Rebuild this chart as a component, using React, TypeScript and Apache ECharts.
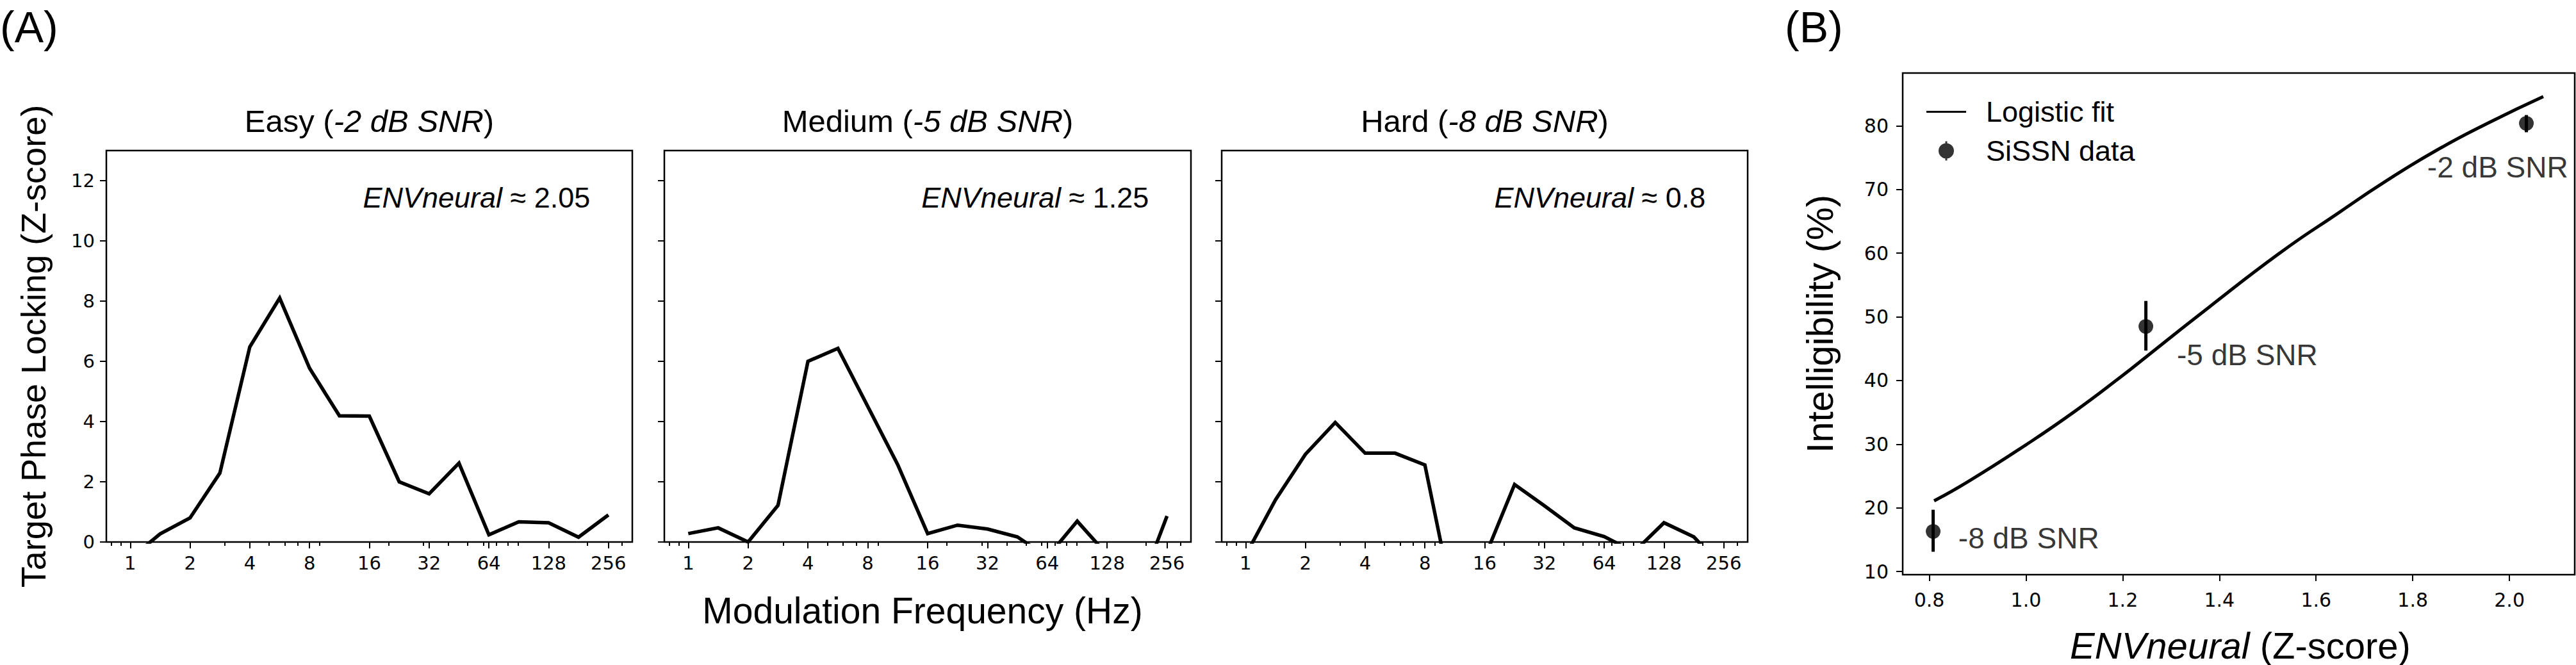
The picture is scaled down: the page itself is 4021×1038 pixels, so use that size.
import React, { useEffect, useRef } from "react";
import * as echarts from "echarts";

// ---------------- data ----------------
const modFreqsHz = [1, 1.414, 2, 2.828, 4, 5.657, 8, 11.31, 16, 22.63, 32, 45.25, 64, 90.51, 128, 181.0, 256];
const easyZ = [-0.55, 0.27, 0.8, 2.29, 6.48, 8.1, 5.77, 4.19, 4.18, 2.0, 1.6, 2.62, 0.24, 0.67, 0.64, 0.16, 0.9];
const mediumZ = [0.28, 0.47, 0.0, 1.22, 6.0, 6.43, 4.5, 2.57, 0.28, 0.56, 0.43, 0.17, -0.5, 0.69, -0.42, -1.75, 0.86];
const hardZ = [-0.44, 1.4, 2.91, 3.97, 2.95, 2.95, 2.56, -2.27, -0.51, 1.91, 1.2, 0.47, 0.18, -0.33, 0.64, 0.17, -0.89];

const freqTickHz = [1, 2, 4, 8, 16, 32, 64, 128, 256];
const freqMinorTickHz = [0.8, 0.9, 3, 5, 6, 7, 9, 20, 30, 40, 50, 60, 70, 80, 90, 200, 300];
const zTicks = [0, 2, 4, 6, 8, 10, 12];

const panelNames = ["Easy", "Medium", "Hard"];
const panelSnr = ["-2 dB SNR", "-5 dB SNR", "-8 dB SNR"];
const envNeuralText = ["2.05", "1.25", "0.8"];

const sissnEnvNeural = [0.808, 1.248, 2.035];
const sissnIntelligibility = [16.3, 48.5, 80.4];
const sissnLow = [13.1, 44.7, 79.0];
const sissnHigh = [19.7, 52.5, 81.7];

const snrLabels = ["-8 dB SNR", "-5 dB SNR", "-2 dB SNR"];
const snrLabelX = [0.86, 1.312, 1.83];
const snrLabelY = [15.2, 44.0, 73.5];

const fitEnvNeural = [0.81, 0.88, 1.0, 1.1, 1.2, 1.25, 1.38, 1.53, 1.64, 1.74, 1.85, 1.96, 2.07];
const fitIntelligibility = [21.1, 24.1, 29.9, 35.1, 40.8, 43.8, 51.6, 60.3, 66.0, 71.1, 76.2, 80.6, 84.6];

const intelTicks = [10, 20, 30, 40, 50, 60, 70, 80];
const envTicks = [0.8, 1.0, 1.2, 1.4, 1.6, 1.8, 2.0];

// ---------------- layout ----------------
const W = 4021;
const H = 1038;
const FONT_SANS = "'Liberation Sans', Arial, Helvetica, sans-serif";
const FONT_TICK = "'DejaVu Sans', sans-serif";

const panelA = [
  { left: 166, top: 235, width: 821, height: 611 },
  { left: 1037, top: 235, width: 822, height: 611 },
  { left: 1907, top: 235, width: 821, height: 611 },
];
const panelB = { left: 2970, top: 114, width: 1049, height: 783 };

const X_MIN = -0.4;
const X_MAX = 8.4;
const Y_MIN = 0;
const Y_MAX = 13;

const tickLine = { color: "#000", width: 2 };
const hiddenLine = { show: false, onZero: false };

function buildOption(): any {
  const log2 = (v: number) => Math.log2(v);
  const series: any[] = [];
  const xAxis: any[] = [];
  const yAxis: any[] = [];
  const graphic: any[] = [];
  const seriesValues = [easyZ, mediumZ, hardZ];

  panelA.forEach((g, i) => {
    xAxis.push({
      type: "value",
      gridIndex: i,
      position: "bottom",
      min: X_MIN,
      max: X_MAX,
      axisLine: hiddenLine,
      splitLine: { show: false },
      axisTick: { show: true, customValues: freqTickHz.map(log2), length: 10, lineStyle: tickLine },
      axisLabel: {
        show: true,
        customValues: freqTickHz.map(log2),
        formatter: (v: number) => String(Math.round(Math.pow(2, v))),
        margin: 18,
        fontSize: 29,
        fontFamily: FONT_TICK,
        color: "#000",
      },
    });
    xAxis.push({
      type: "value",
      gridIndex: i,
      position: "bottom",
      min: X_MIN,
      max: X_MAX,
      axisLine: hiddenLine,
      splitLine: { show: false },
      axisTick: { show: true, customValues: freqMinorTickHz.map(log2), length: 6, lineStyle: tickLine },
      axisLabel: { show: false },
    });
    yAxis.push({
      type: "value",
      gridIndex: i,
      position: "left",
      min: Y_MIN,
      max: Y_MAX,
      axisLine: hiddenLine,
      splitLine: { show: false },
      axisTick: { show: true, customValues: zTicks, length: 10, lineStyle: tickLine },
      axisLabel: {
        show: i === 0,
        customValues: zTicks,
        margin: 18,
        fontSize: 29,
        fontFamily: FONT_TICK,
        color: "#000",
      },
    });
    series.push({
      type: "line",
      xAxisIndex: 2 * i,
      yAxisIndex: i,
      data: modFreqsHz.map((f, k) => [log2(f), seriesValues[i][k]]),
      symbol: "none",
      clip: true,
      lineStyle: { color: "#000", width: 5.5, join: "miter" },
      silent: true,
    });

    const cx = g.left + g.width / 2;
    graphic.push({
      type: "text",
      x: cx,
      y: 189,
      style: {
        text: `{n|${panelNames[i]} (}{i|${panelSnr[i]}}{n|)}`,
        align: "center",
        verticalAlign: "middle",
        fill: "#000",
        rich: {
          n: { fontSize: 49, fontFamily: FONT_SANS, fill: "#000" },
          i: { fontSize: 49, fontFamily: FONT_SANS, fontStyle: "italic", fill: "#000" },
        },
      },
    });
    graphic.push({
      type: "text",
      x: g.left + g.width * 0.92,
      y: g.top + g.height * 0.12,
      style: {
        text: `{i|ENVneural}{n| ≈ ${envNeuralText[i]}}`,
        align: "right",
        verticalAlign: "middle",
        fill: "#000",
        rich: {
          n: { fontSize: 45, fontFamily: FONT_SANS, fill: "#000" },
          i: { fontSize: 45, fontFamily: FONT_SANS, fontStyle: "italic", fill: "#000" },
        },
      },
    });
  });

  // Panel B axes
  xAxis.push({
    type: "value",
    gridIndex: 3,
    position: "bottom",
    min: 0.745,
    max: 2.135,
    axisLine: hiddenLine,
    splitLine: { show: false },
    axisTick: { show: true, customValues: envTicks, length: 10, lineStyle: tickLine },
    axisLabel: {
      show: true,
      customValues: envTicks,
      formatter: (v: number) => v.toFixed(1),
      margin: 24,
      fontSize: 30,
      fontFamily: FONT_TICK,
      color: "#000",
    },
  });
  yAxis.push({
    type: "value",
    gridIndex: 3,
    position: "left",
    min: 9.5,
    max: 88.3,
    axisLine: hiddenLine,
    splitLine: { show: false },
    axisTick: { show: true, customValues: intelTicks, length: 10, lineStyle: tickLine },
    axisLabel: {
      show: true,
      customValues: intelTicks,
      margin: 22,
      fontSize: 30,
      fontFamily: FONT_TICK,
      color: "#000",
    },
  });

  series.push({
    name: "Logistic fit",
    type: "line",
    xAxisIndex: 6,
    yAxisIndex: 3,
    data: fitEnvNeural.map((x, k) => [x, fitIntelligibility[k]]),
    symbol: "none",
    smooth: 0.5,
    lineStyle: { color: "#000", width: 5 },
    itemStyle: { color: "#000" },
    silent: true,
  });
  series.push({
    type: "custom",
    xAxisIndex: 6,
    yAxisIndex: 3,
    data: sissnEnvNeural.map((x, k) => [x, sissnLow[k], sissnHigh[k]]),
    encode: { x: 0, y: [1, 2] },
    renderItem: (_params: any, api: any) => {
      const lo = api.coord([api.value(0), api.value(1)]);
      const hi = api.coord([api.value(0), api.value(2)]);
      return {
        type: "line",
        shape: { x1: lo[0], y1: lo[1], x2: hi[0], y2: hi[1] },
        style: { stroke: "#000", lineWidth: 5 },
      };
    },
    z: 3,
    silent: true,
  });
  series.push({
    name: "SiSSN data",
    type: "scatter",
    xAxisIndex: 6,
    yAxisIndex: 3,
    data: sissnEnvNeural.map((x, k) => [x, sissnIntelligibility[k]]),
    symbol: "circle",
    symbolSize: 23,
    itemStyle: { color: "#000" },
    z: 4,
    silent: true,
  });
  series.push({
    type: "scatter",
    xAxisIndex: 6,
    yAxisIndex: 3,
    data: snrLabels.map((t, k) => ({ value: [snrLabelX[k], snrLabelY[k]], name: t })),
    symbolSize: 0.1,
    itemStyle: { color: "transparent" },
    label: {
      show: true,
      position: "right",
      distance: 0,
      formatter: (p: any) => p.name,
      fontSize: 46,
      fontFamily: FONT_SANS,
      color: "#000",
      align: "left",
      verticalAlign: "middle",
    },
    silent: true,
  });

  const fitIcon =
    "path://M0,13.5L62,13.5L62,16.5L0,16.5Z M31,0L31.01,0L31,0.01Z M31,30L31.01,30L31,29.99Z";
  // circle and bar drawn with the same winding so they unite
  const dataIcon =
    "path://M19,15A12,12 0 1,0 43,15A12,12 0 1,0 19,15Z M29.5,0L29.5,30L32.5,30L32.5,0Z M0,15L0.01,15L0,15.01Z M62,15L61.99,15L62,15.01Z";

  // texts
  graphic.push(
    {
      type: "text",
      x: 0,
      y: 42,
      style: { text: "(A)", fontSize: 68, fontFamily: FONT_SANS, fill: "#000", align: "left", verticalAlign: "middle" },
    },
    {
      type: "text",
      x: 2786,
      y: 42,
      style: { text: "(B)", fontSize: 68, fontFamily: FONT_SANS, fill: "#000", align: "left", verticalAlign: "middle" },
    },
    {
      type: "text",
      x: 1440,
      y: 953,
      style: {
        text: "Modulation Frequency (Hz)",
        fontSize: 57,
        fontFamily: FONT_SANS,
        fill: "#000",
        align: "center",
        verticalAlign: "middle",
      },
    },
    {
      type: "text",
      x: 52,
      y: panelA[0].top + panelA[0].height / 2,
      rotation: Math.PI / 2,
      style: {
        text: "Target Phase Locking (Z-score)",
        fontSize: 54,
        fontFamily: FONT_SANS,
        fill: "#000",
        align: "center",
        verticalAlign: "middle",
      },
    },
    {
      type: "text",
      x: 2840,
      y: panelB.top + panelB.height / 2,
      rotation: Math.PI / 2,
      style: {
        text: "Intelligibility (%)",
        fontSize: 58,
        fontFamily: FONT_SANS,
        fill: "#000",
        align: "center",
        verticalAlign: "middle",
      },
    },
    {
      type: "text",
      x: 3497,
      y: 1007,
      style: {
        text: "{i|ENVneural}{n| (Z-score)}",
        align: "center",
        verticalAlign: "middle",
        fill: "#000",
        rich: {
          n: { fontSize: 58, fontFamily: FONT_SANS, fill: "#000" },
          i: { fontSize: 58, fontFamily: FONT_SANS, fontStyle: "italic", fill: "#000" },
        },
      },
    }
  );

  return {
    animation: false,
    backgroundColor: "#fff",
    grid: [...panelA, panelB].map((g) => ({
      ...g,
      show: true,
      borderColor: "#000",
      borderWidth: 2.5,
      backgroundColor: "transparent",
      containLabel: false,
    })),
    legend: {
      show: true,
      orient: "vertical",
      left: 3007,
      top: 152,
      padding: 0,
      itemWidth: 62,
      itemHeight: 30,
      itemGap: 16,
      selectedMode: false,
      itemStyle: { borderWidth: 0 },
      textStyle: { fontSize: 45, fontFamily: FONT_SANS, color: "#000", padding: [0, 0, 0, 26] },
      data: [
        { name: "Logistic fit", icon: fitIcon },
        { name: "SiSSN data", icon: dataIcon },
      ],
    },
    xAxis,
    yAxis,
    series,
    graphic,
  };
}

export default function App() {
  const ref = useRef<HTMLDivElement>(null);
  useEffect(() => {
    if (!ref.current) return;
    const chart = echarts.init(ref.current, null, { renderer: "svg", width: W, height: H });
    chart.setOption(buildOption());
    return () => chart.dispose();
  }, []);
  return (
    <div
      ref={ref}
      style={{ position: "fixed", left: 0, top: 0, width: W, height: H, background: "#fff" }}
    />
  );
}
